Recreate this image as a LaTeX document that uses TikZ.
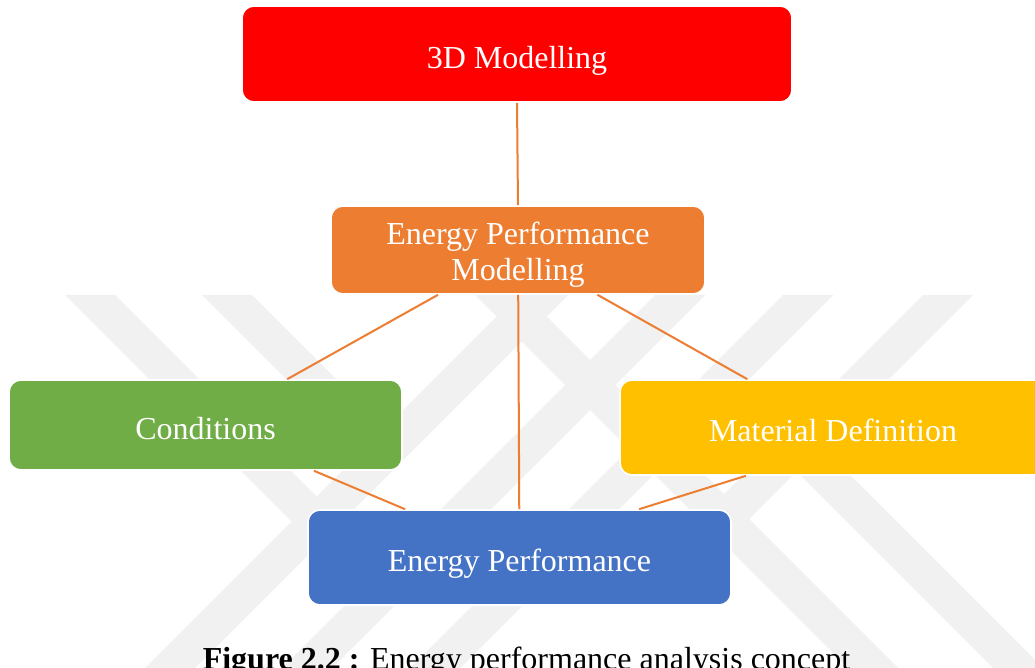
\documentclass[tikz,border=0pt]{standalone}
\usepackage{fontspec}
\setmainfont{Liberation Serif}
\usepackage{tikz}
\usetikzlibrary{calc}
\definecolor{modelred}{HTML}{FF0000}
\definecolor{linkorange}{HTML}{ED7D31}
\definecolor{condgreen}{HTML}{70AD47}
\definecolor{matyellow}{HTML}{FFC000}
\definecolor{perfblue}{HTML}{4472C4}
\definecolor{wmgray}{HTML}{F1F1F1}
\newcommand\lowered[2][1.5pt]{\raisebox{-#1}[\height][0pt]{#2}}

\begin{document}
\begin{tikzpicture}[x=0.5pt,y=-0.5pt,
box/.style={draw=white,line width=0.8pt,rounded corners=6pt,text=white,inner sep=0pt,font=\fontsize{16}{18}\selectfont},
link/.style={linkorange,line width=1pt},
wm/.style={fill=wmgray}]
\fill[white] (0,0) rectangle (1035,668);
\useasboundingbox (0,0) rectangle (1035,668);
% watermark stripes
\fill[wm] (518,295)--(568,295)--(195,668)--(145,668)--cycle;
\fill[wm] (655,295)--(705,295)--(332,668)--(282,668)--cycle;
\fill[wm] (783,295)--(833,295)--(460,668)--(410,668)--cycle;
\fill[wm] (923,295)--(973,295)--(749,519)--(724,494)--cycle;
\fill[wm] (475,295)--(525,295)--(898,668)--(848,668)--cycle;
\fill[wm] (755,430)--(805,430)--(1043,668)--(993,668)--cycle;
\fill[wm] (65,295)--(115,295)--(316.5,496.5)--(291.5,521.5)--cycle;
\fill[wm] (202,295)--(252,295)--(385,428)--(360,453)--cycle;
\node[box,fill=modelred,minimum width=275pt,minimum height=48pt] (model3d) at (517,54) {\lowered{3D Modelling}};
\node[box,fill=linkorange,minimum width=187pt,minimum height=44pt] (epm) at (518,250) {\raisebox{-2.5pt}[\height][\depth]{\begin{tabular}{@{}c@{}}Energy Performance\\Modelling\end{tabular}}};
\node[box,fill=condgreen,minimum width=196.5pt,minimum height=45pt] (cond) at (205.5,425) {\lowered{Conditions}};
\node[box,fill=matyellow,minimum width=213pt,minimum height=47.5pt] (mat) at (833,427.5) {\lowered{Material Definition}};
\node[box,fill=perfblue,minimum width=211.5pt,minimum height=47.5pt] (perf) at (519.5,557.5) {\lowered{Energy Performance}};
\node[anchor=base,font=\fontsize{16}{18}\selectfont] (caption) at (526.5,669) {\textbf{Figure 2.2 :} Energy performance analysis concept};
\draw[link] (model3d.south) -- (epm.north);
\draw[link] (epm) -- (cond);
\draw[link] (epm) -- (perf);
\draw[link] (epm) -- (mat);
\draw[link] (cond) -- (perf);
\draw[link] (mat.209) -- (perf.22);
\end{tikzpicture}
\end{document}
